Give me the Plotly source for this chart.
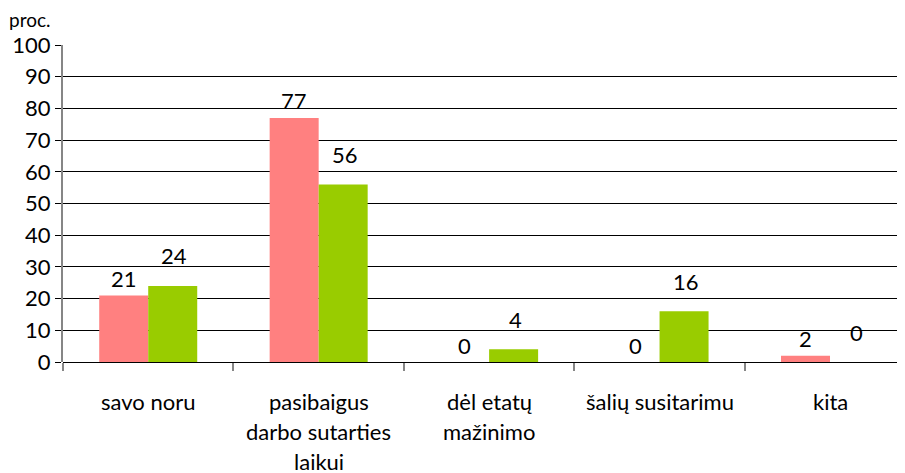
import plotly.graph_objects as go

categories = ["savo noru", "pasibaigus<br>darbo sutarties<br>laikui", "dėl etatų<br>mažinimo",
              "šalių susitarimu", "kita"]
series_a = [21, 77, 0, 0, 2]
series_b = [24, 56, 4, 16, 0]
y_ticks = [0, 10, 20, 30, 40, 50, 60, 70, 80, 90, 100]

FONT = "Lato"
FS = 22
fig = go.Figure()
fig.add_trace(go.Bar(x=categories, y=series_a, marker_color="#FF8080", marker_line_width=0))
fig.add_trace(go.Bar(x=categories, y=series_b, marker_color="#99CC00", marker_line_width=0))

annotations = [dict(text="proc.", xref="paper", yref="paper", x=-55 / 842, y=1,
                    xanchor="left", yanchor="bottom", yshift=12, xshift=-1, showarrow=False,
                    font=dict(family=FONT, size=19, color="black"))]
# value labels
for vals, xs, ys in ((series_a, -24.5, 17), (series_b, 26, 30)):
    for i, v in enumerate(vals):
        annotations.append(dict(text=str(v), xref="x", yref="y", x=i, y=v,
                                xshift=xs, yshift=ys, xanchor="center", yanchor="middle",
                                showarrow=False, font=dict(family=FONT, size=FS, color="black")))
# category labels, line by line
for i, cat in enumerate(categories):
    for j, line in enumerate(cat.split("<br>")):
        annotations.append(dict(text=line, xref="x", yref="y", x=i, y=0,
                                yshift=-(39 + 30 * j), xanchor="center", yanchor="middle",
                                showarrow=False, font=dict(family=FONT, size=FS, color="black")))

fig.update_layout(
    width=897, height=465,
    margin=dict(l=55, r=0, t=37, b=111, autoexpand=False),
    paper_bgcolor="white", plot_bgcolor="white",
    barmode="group", bargap=0.425, bargroupgap=0,
    showlegend=False,
    font=dict(family=FONT, size=FS, color="black"),
    annotations=annotations,
)
fig.update_xaxes(type="category", range=[-0.5, 4.44], tickson="boundaries",
                 ticks="outside", ticklen=8, tickcolor="#868686", tickwidth=2,
                 showgrid=False, showline=False, showticklabels=False, automargin=False)
fig.update_yaxes(range=[0, 100], tickvals=y_ticks, showgrid=True, gridcolor="black",
                 gridwidth=1, zeroline=True, zerolinecolor="black", zerolinewidth=1,
                 showline=True, linecolor="#868686", linewidth=2,
                 ticks="outside", ticklen=6, tickcolor="black", automargin=False,
                 tickfont=dict(family=FONT, size=FS))

fig.write_html("out.html")
